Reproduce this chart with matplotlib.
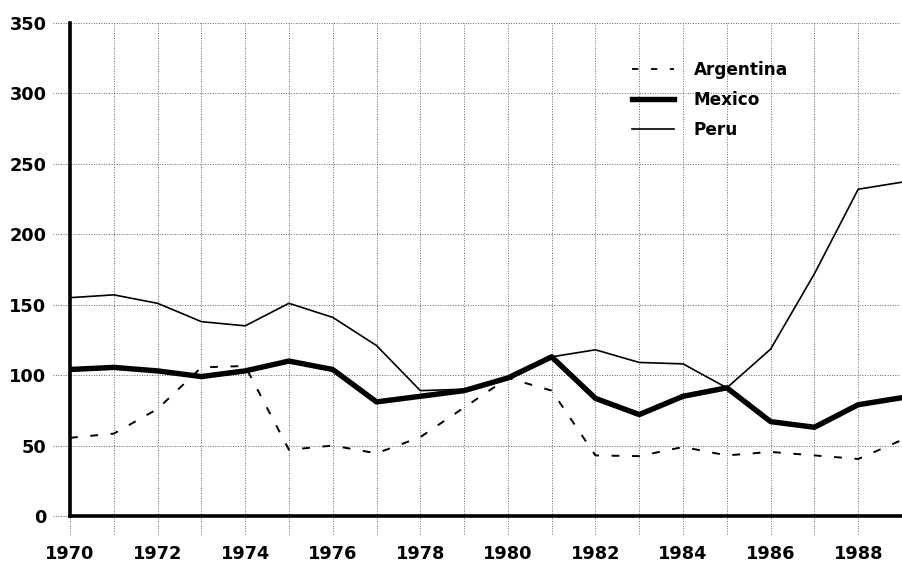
import matplotlib
matplotlib.use("Agg")
import matplotlib.pyplot as plt
from matplotlib.lines import Line2D

years = list(range(1970, 1990))
argentina = [55.5, 58.5, 76, 105.5, 106.5, 47, 50, 44.5, 56, 77,
             98, 89, 43, 42.5, 49, 43, 45.5, 43, 40.5, 54]
mexico = [104, 105.5, 103, 99, 103, 110, 104, 81, 85, 89,
          98, 113, 83.5, 72, 85, 91, 67, 63, 79, 84]
peru = [155, 157, 151, 138, 135, 151, 141, 121, 89, 90,
        98, 113, 118, 109, 108, 91, 118.5, 172, 232, 237]
y_ticks = [0, 50, 100, 150, 200, 250, 300, 350]
x_labels = [1970, 1972, 1974, 1976, 1978, 1980, 1982, 1984, 1986, 1988]

plt.rcParams['font.family'] = ['DejaVu Sans']

fig = plt.figure(figsize=(9.02, 5.67), dpi=100)
ax = fig.add_axes([70/902, 51/567, 832/902, 493/567])
ax.set_xlim(1970, 1970 + 832/43.9)
ax.set_ylim(0, 350)

grid_kw = dict(color='#666666', lw=0.7, ls=(0, (1, 1.6)), zorder=1, clip_on=False)
x_left = 1970 - 17/43.9
x_right = 1970 + 832/43.9
y_low = -18/1.409
for y in y_ticks:
    ax.plot([x_left, x_right], [y, y], **grid_kw)
for x in years:
    ax.plot([x, x], [y_low, 350], **grid_kw)

ax.plot(years, argentina, color='black', lw=1.4, dashes=(4, 6.5), zorder=3)
ax.plot(years, mexico, color='black', lw=3.9, solid_joinstyle='round', zorder=4)
ax.plot(years, peru, color='black', lw=1.2, zorder=3)

for s in ['top', 'right']:
    ax.spines[s].set_visible(False)
ax.spines['left'].set_linewidth(2.6)
ax.spines['bottom'].set_linewidth(2.6)
ax.spines['left'].set_zorder(5)
ax.spines['bottom'].set_zorder(5)

ax.set_yticks(y_ticks)
ax.set_yticklabels([str(v) for v in y_ticks], fontsize=12.8, fontweight='bold')
ax.set_xticks(years, minor=True)
ax.set_xticks(x_labels)
ax.set_xticklabels([str(v) for v in x_labels], fontsize=12.8, fontweight='bold')
ax.tick_params(axis='y', length=0, pad=17)
ax.tick_params(axis='x', which='both', length=0, pad=21)

handles = [Line2D([], [], color='black', lw=1.3, dashes=(3.5, 7)),
           Line2D([], [], color='black', lw=3.9),
           Line2D([], [], color='black', lw=1.2)]
leg = fig.legend(handles, ['Argentina', 'Mexico', 'Peru'],
                 loc='upper left', bbox_to_anchor=(632/902, 1 - 61/567),
                 frameon=False, borderpad=0, borderaxespad=0,
                 handlelength=2.45, handletextpad=1.2, labelspacing=0.72,
                 prop={'size': 12.2, 'weight': 'bold'})

fig.savefig('out.png', dpi=100, facecolor='white')
